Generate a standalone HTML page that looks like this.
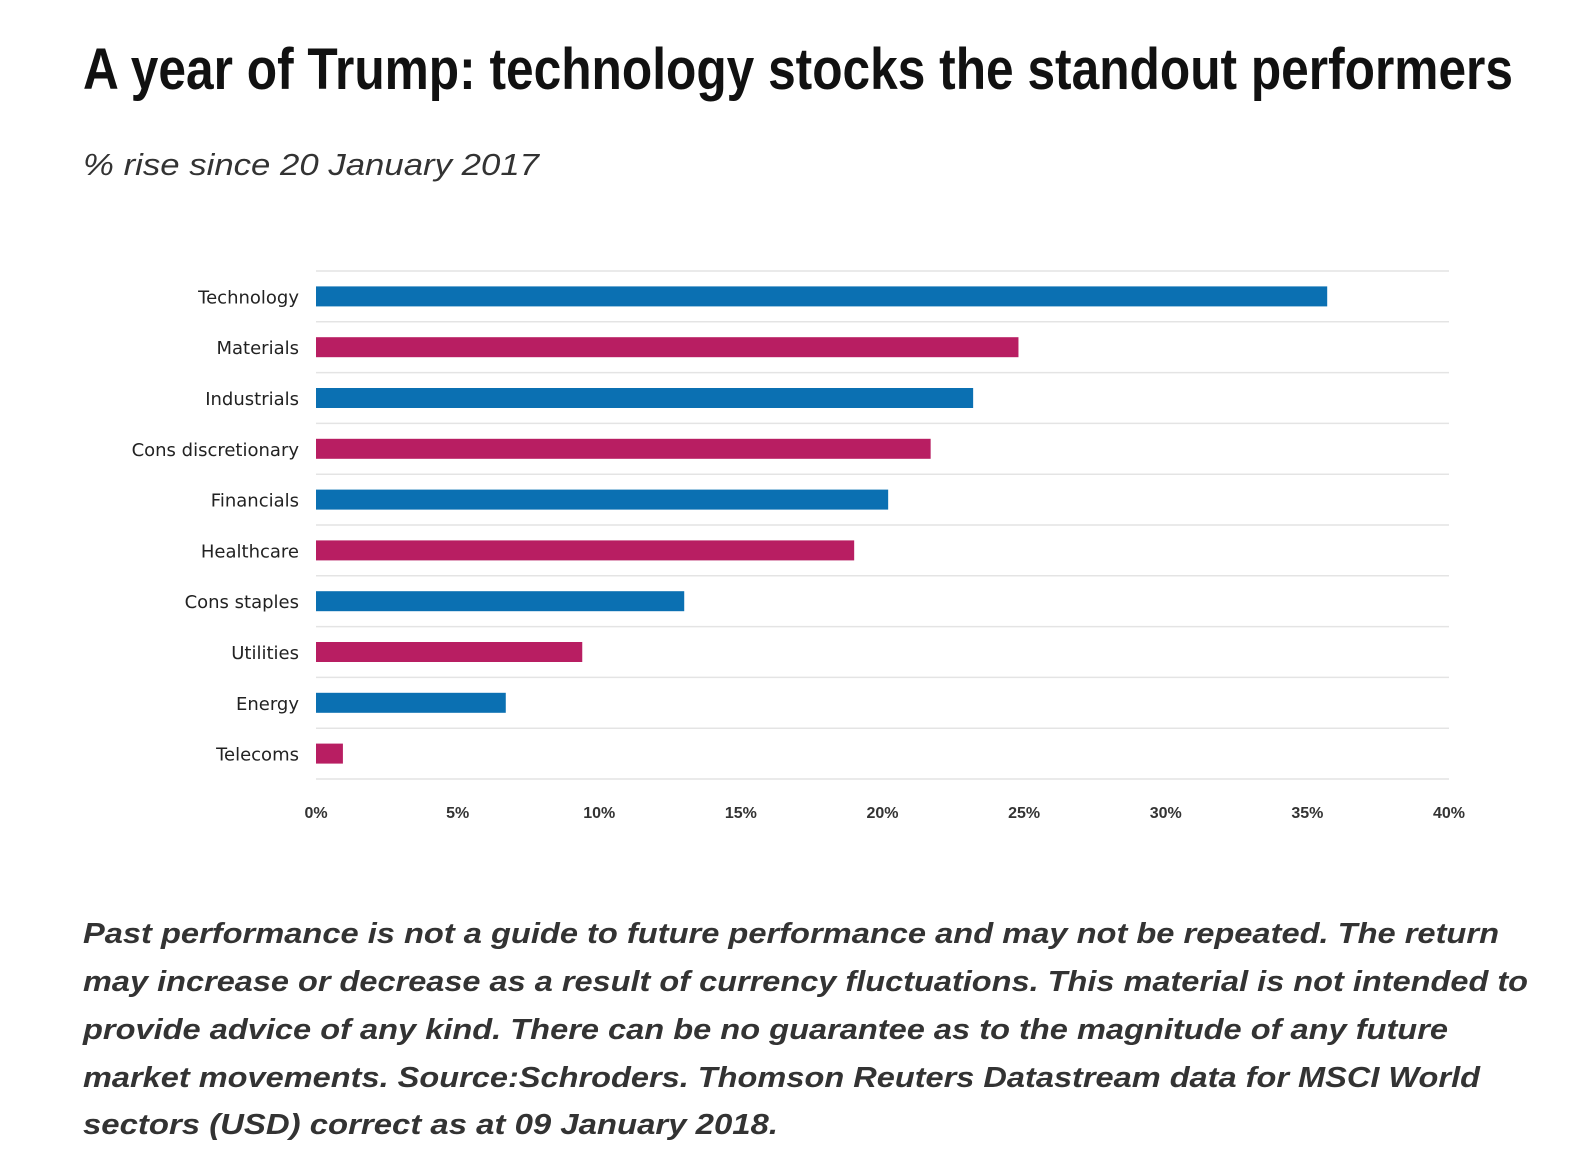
<!DOCTYPE html>
<html><head><meta charset="utf-8"><style>
html,body{margin:0;padding:0;background:#fff;}
svg{display:block;}
</style></head><body>
<svg width="1576" height="1173" viewBox="0 0 1576 1173" xmlns="http://www.w3.org/2000/svg">
<text x="83" y="89" font-family="'Liberation Sans Narrow','Liberation Sans',sans-serif" font-weight="bold" font-size="58" fill="#111" textLength="1430" lengthAdjust="spacingAndGlyphs">A year of Trump: technology stocks the standout performers</text>
<text x="83" y="175" font-family="'Liberation Sans',sans-serif" font-style="italic" font-size="31" fill="#333" textLength="456" lengthAdjust="spacingAndGlyphs">% rise since 20 January 2017</text>
<g id="plot"></g>
<g font-family="'Liberation Sans',sans-serif" font-style="italic" font-weight="bold" font-size="29" fill="#333">
<text x="83" y="943" textLength="1416" lengthAdjust="spacingAndGlyphs">Past performance is not a guide to future performance and may not be repeated. The return</text>
<text x="83" y="991" textLength="1445" lengthAdjust="spacingAndGlyphs">may increase or decrease as a result of currency fluctuations. This material is not intended to</text>
<text x="83" y="1039" textLength="1365" lengthAdjust="spacingAndGlyphs">provide advice of any kind. There can be no guarantee as to the magnitude of any future</text>
<text x="83" y="1087" textLength="1397" lengthAdjust="spacingAndGlyphs">market movements. Source:Schroders. Thomson Reuters Datastream data for MSCI World</text>
<text x="83" y="1134" textLength="695" lengthAdjust="spacingAndGlyphs">sectors (USD) correct as at 09 January 2018.</text>
</g>
</svg>
<script>
const categories = ["Technology","Materials","Industrials","Cons discretionary","Financials","Healthcare","Cons staples","Utilities","Energy","Telecoms"];
const values = [35.7,24.8,23.2,21.7,20.2,19.0,13.0,9.4,6.7,0.95];
const ticks = [0,5,10,15,20,25,30,35,40];
const tickLabels = ["0%","5%","10%","15%","20%","25%","30%","35%","40%"];
const NS="http://www.w3.org/2000/svg";
const g=document.getElementById('plot');
const x0=316,x1=1449,yTop=271,yBot=779;
const xs=v=>x0+(v-0)/(40-0)*(x1-x0);
const band=(yBot-yTop)/categories.length;
const yc=i=>yTop+band*(i+0.5);
function mk(t,a){const e=document.createElementNS(NS,t);for(const k in a)e.setAttribute(k,a[k]);g.appendChild(e);return e;}
for(let i=0;i<=categories.length;i++){
  const l=mk('line',{x1:x0,x2:x1,y1:yTop+band*i,y2:yTop+band*i,stroke:'#e4e4e4','stroke-width':1.5});
  
  
}
categories.forEach((c,i)=>{
  const r=mk('rect',{x:xs(0),y:yc(i)-10,width:xs(values[i])-xs(0),height:20,fill:i%2?'#b81e62':'#0b70b2'});
  
  
  const t=mk('text',{x:299,y:yc(i)+7,'text-anchor':'end','font-family':"'DejaVu Sans','Liberation Sans',sans-serif",'font-size':18,fill:'#222'});
  t.textContent=c;
  
  
});
ticks.forEach((v,i)=>{
  const t=mk('text',{x:xs(v),y:818,'text-anchor':'middle','font-family':"'Liberation Sans',sans-serif",'font-size':16,'font-weight':'bold',fill:'#333'});
  t.textContent=tickLabels[i];
  
  
});
</script>
</body></html>
